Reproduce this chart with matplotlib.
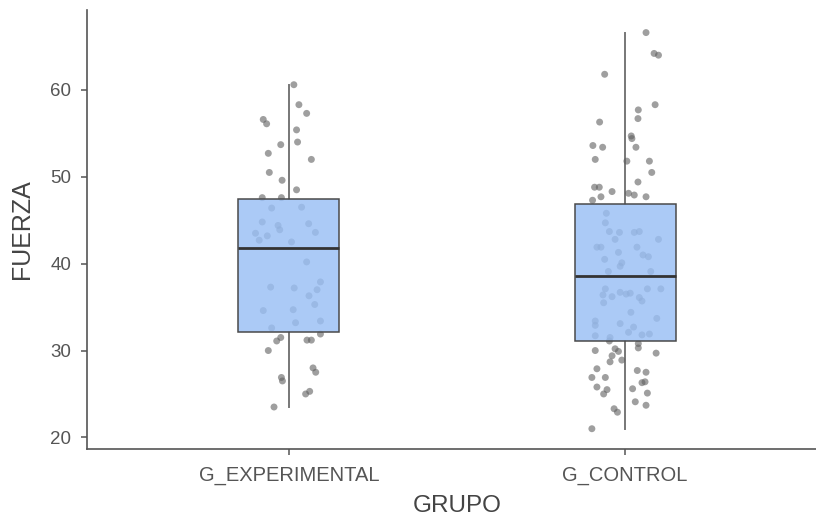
import numpy as np
import matplotlib
matplotlib.use('Agg')
from matplotlib import pyplot as plt

plt.rcParams['font.family'] = ['Liberation Sans', 'DejaVu Sans']

groups = ['G_EXPERIMENTAL', 'G_CONTROL']

# box summaries per group: min, Q1, median, Q3, max
box_low = [23.5, 21.0]
box_q1 = [32.1, 31.1]
box_med = [41.8, 38.6]
box_q3 = [47.4, 46.9]
box_high = [60.6, 66.6]

# FUERZA values and horizontal jitter for each group
exp_fuerza = [60.6, 58.3, 57.3, 56.6, 56.1, 55.4, 53.7, 54.0, 52.7, 52.0, 50.5, 49.6, 48.5, 47.6, 47.6,
              46.4, 46.5, 44.8, 44.4, 43.9, 44.6, 43.5, 43.2, 42.7, 43.6, 42.5, 40.2, 37.3, 37.2, 37.9,
              37.0, 36.3, 35.3, 34.6, 34.7, 33.2, 33.4, 32.6,
              31.1, 31.5, 31.2, 31.2, 31.9, 30.0, 28.0, 27.5, 26.9, 26.5, 25.3, 25.0, 23.5]
exp_jitter = [0.015, 0.030, 0.053, -0.076, -0.066, 0.023, -0.024, 0.026, -0.061, 0.067, -0.058, -0.020,
              0.023, -0.079, -0.022,
              -0.051, 0.038, -0.079, -0.032, -0.027, 0.059, -0.099, -0.064, -0.088, 0.079, 0.008, 0.053,
              -0.054, 0.016, 0.094, 0.084, 0.060, 0.077, -0.076, 0.013, 0.020, 0.094, -0.051,
              -0.036, -0.024, 0.054, 0.067, 0.094, -0.061, 0.072, 0.080, -0.022, -0.019, 0.062, 0.050,
              -0.044]

ctl_fuerza = [66.6, 64.2, 64.0, 61.8, 58.3, 57.7, 56.7, 56.3, 54.7, 54.4, 53.6, 53.4, 53.4, 52.0, 51.8,
              51.8, 50.5, 49.4, 48.8, 48.8, 48.3, 48.1, 47.9, 47.7, 47.7, 47.3,
              45.8, 44.7, 43.7, 43.6, 43.6, 43.7, 42.8, 42.8, 41.9, 41.9, 41.9, 41.3, 41.0, 40.8, 40.5,
              40.1, 39.7, 39.1, 39.1, 37.1, 37.1, 37.1, 36.4, 36.2, 36.7, 36.5, 36.6, 36.1, 35.7, 35.5,
              34.4, 33.7, 33.4, 32.9, 33.1, 32.7, 31.7, 31.5, 32.1, 31.8, 31.9,
              31.1, 30.8, 30.3, 30.0, 30.2, 29.9, 29.4, 28.7, 28.9, 29.7, 27.9, 27.7, 27.5, 26.9, 26.9,
              26.3, 26.4, 25.8, 25.5, 25.0, 25.6, 25.1, 24.1, 23.7, 23.3, 22.9, 21.0]
ctl_jitter = [0.062, 0.086, 0.099, -0.061, 0.089, 0.039, 0.038, -0.076, 0.018, 0.020, -0.096, -0.067,
              0.032, -0.089, 0.005, 0.072, 0.079, 0.038, -0.091, -0.077, -0.039, 0.010, 0.027, -0.072,
              0.062, -0.097,
              -0.056, -0.059, -0.047, -0.017, 0.027, 0.042, -0.030, 0.099, -0.084, -0.072, 0.035, -0.020,
              0.053, 0.069, -0.061, -0.010, -0.015, 0.076, -0.050, 0.066, -0.059, 0.106, -0.066, -0.039,
              -0.015, 0.003, 0.015, 0.042, 0.050, -0.064, 0.017, 0.094, -0.089, -0.089, -0.015, 0.025,
              -0.089, -0.045, 0.010, 0.050, 0.072,
              -0.047, 0.039, 0.039, -0.089, -0.030, -0.020, -0.039, -0.045, -0.010, 0.092, -0.084, 0.036,
              0.062, -0.099, -0.059, 0.050, 0.059, -0.084, -0.054, -0.064, 0.022, 0.066, 0.030, 0.062,
              -0.033, -0.023, -0.099]

W, H = 816, 521
fig = plt.figure(figsize=(W / 100, H / 100), dpi=100)
# panel runs past the right edge, like the exported plot
ax = fig.add_axes([87 / W, 1 - 448.7 / H, 740 / W, 438.7 / H])

pos = np.arange(1, len(groups) + 1)
stats = []
for i, g in enumerate(groups):
    stats.append(dict(label=g, whislo=box_low[i], q1=box_q1[i], med=box_med[i],
                      q3=box_q3[i], whishi=box_high[i], fliers=[]))

bp = ax.bxp(stats, positions=pos, widths=0.3, patch_artist=True, showcaps=False,
            showfliers=False,
            boxprops=dict(facecolor=(0.6, 0.75, 0.96, 0.82), edgecolor='#4a4a4a', linewidth=1.1),
            whiskerprops=dict(color='#777777', linewidth=1.4),
            medianprops=dict(color='#333333', linewidth=2.0))
for b in bp['boxes']:
    b.set_zorder(3)
for m in bp['medians']:
    m.set_zorder(4)
for w in bp['whiskers']:
    w.set_zorder(1)

for p, vals, jit in [(pos[0], exp_fuerza, exp_jitter), (pos[1], ctl_fuerza, ctl_jitter)]:
    ax.scatter(p + np.array(jit), vals, s=25, color='#606060', alpha=0.6,
               edgecolors='none', zorder=2)

ax.set_xlim(0.4, 2.6)
ax.set_ylim(18.7, 69.2)
ax.set_yticks([20, 30, 40, 50, 60])
ax.set_xticks(pos)
ax.set_xticklabels(groups)

for s in ['top', 'right']:
    ax.spines[s].set_visible(False)
for s in ['left', 'bottom']:
    ax.spines[s].set_color('#555555')
    ax.spines[s].set_linewidth(1.2)

ax.tick_params(axis='both', colors='#555555', labelcolor='#555555', length=4.3, width=1.1)
ax.tick_params(axis='y', pad=7, labelsize=13.5)
ax.tick_params(axis='x', pad=8, labelsize=14.5)

ax.set_xlabel('GRUPO', fontsize=17.5, color='#444444', labelpad=7)
ax.set_ylabel('FUERZA', fontsize=18, color='#444444', labelpad=12)

fig.savefig('out.png', dpi=100)
